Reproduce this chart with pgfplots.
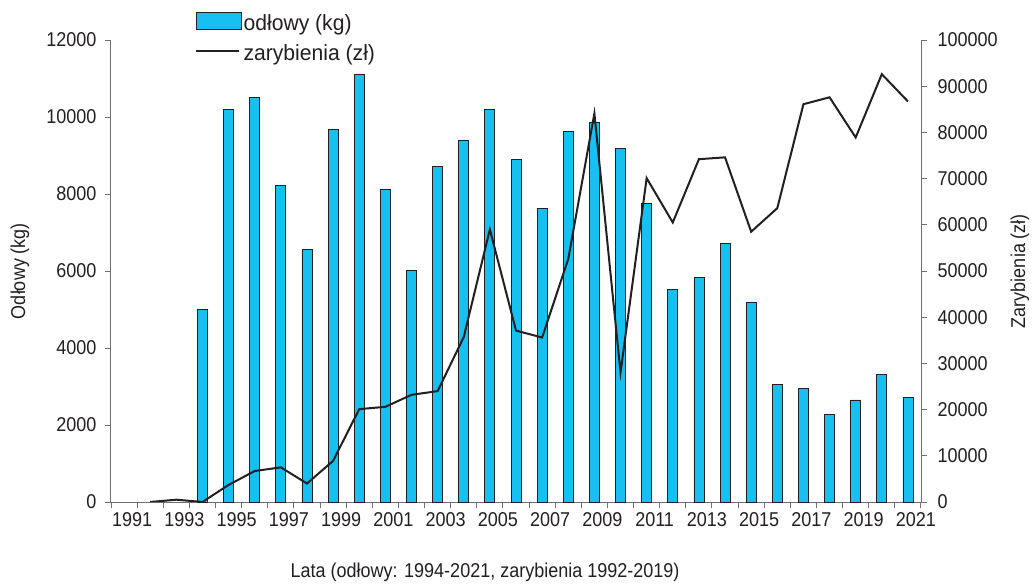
\documentclass[border=0pt]{standalone}
\usepackage{fontspec}
\setmainfont{Liberation Sans}[FakeStretch=0.9]
\newfontfamily\legfont{Liberation Sans}[FakeStretch=0.96]
\usepackage{pgfplots}
\pgfplotsset{compat=1.18}
\definecolor{barcyan}{HTML}{16C1F1}
\definecolor{ink}{HTML}{231F20}
\definecolor{axisgray}{HTML}{6D6E71}

\pgfplotsset{
  chartbase/.style={
    at={(0,0)}, anchor=south west,
    scale only axis, width=810bp, height=462bp,
    xmin=1990.5, xmax=2021.5, ymin=0,
    scaled ticks=false,
    tick align=outside,
    major tick length=6bp,
    tick style={axisgray, line width=0.9bp},
    axis line style={axisgray, line width=1bp},
    tick label style={font=\fontsize{20bp}{24bp}\selectfont, text=ink},
    label style={font=\fontsize{20bp}{24bp}\selectfont, text=ink},
    /pgf/number format/assume math mode=true,
    /pgf/number format/fixed,
    /pgf/number format/precision=0,
    /pgf/number format/1000 sep={},
  },
}

\begin{document}
\begin{tikzpicture}
\useasboundingbox (-111bp,-83bp) rectangle (922bp,502bp);

% odlowy: bars on the left axis
\begin{axis}[
  chartbase,
  ymax=12000,
  axis x line*=bottom, axis y line*=left,
  ytick={0,2000,...,12000},
  yticklabel style={xshift=-5bp},
  xtick={1990.5,1991.5,...,2021.5},
  xticklabels={},
  extra x ticks={1991,1993,...,2021},
  extra x tick labels={1991,1993,1995,1997,1999,2001,2003,2005,2007,2009,2011,2013,2015,2017,2019,2021},
  extra x tick style={grid=none, major tick length=0pt,
    xticklabel style={xshift=8bp, yshift=-7bp}},
  ylabel={Odłowy (kg)},
  ylabel style={at={(axis description cs:-0.1123,0.5)}, anchor=center},
  xlabel={Lata (odłowy: 1994-2021, zarybienia 1992-2019)},
  xlabel style={at={(axis description cs:0.4617,-0.1515)}, anchor=center},
  legend style={at={(axis description cs:0.1037,1.0606)}, anchor=north west,
    draw=none, fill=none, inner sep=0pt, row sep=8bp,
    font=\legfont\fontsize{22bp}{26bp}\selectfont,
    nodes={text=ink, inner sep=2bp}},
  legend cell align=left,
]
\addplot[ybar, bar width=10bp, fill=barcyan, draw=ink, line width=0.8bp,
  legend image code/.code={\draw[fill=barcyan, draw=ink, line width=0.8bp] (0bp,-6bp) rectangle (45bp,11bp);}]
  coordinates {
  (1994,4990) (1995,10200) (1996,10500) (1997,8220) (1998,6550) (1999,9670)
  (2000,11100) (2001,8110) (2002,6010) (2003,8710) (2004,9380) (2005,10200)
  (2006,8890) (2007,7630) (2008,9620) (2009,9860) (2010,9190) (2011,7750)
  (2012,5520) (2013,5830) (2014,6720) (2015,5180) (2016,3060) (2017,2950)
  (2018,2280) (2019,2650) (2020,3310) (2021,2720)
};
\addlegendentry{odłowy (kg)}
\addlegendimage{legend image code/.code={\draw[ink, line width=2bp] (0bp,2.5bp) -- (43bp,2.5bp);}}
\addlegendentry{zarybienia (zł)}
\end{axis}

% zarybienia: line on the right axis
\begin{axis}[
  chartbase,
  ymax=100000,
  axis x line=none, axis y line*=right,
  ytick={0,10000,...,100000},
  yticklabel style={xshift=7bp},
  ylabel={Zarybienia (zł)},
  ylabel style={at={(axis description cs:1.1222,0.5)}, anchor=center},
]
\addplot[ink, line width=2bp, mark=none, line join=miter] coordinates {
  (1992,0) (1993,500) (1994,0) (1995,3700) (1996,6700) (1997,7500)
  (1998,4000) (1999,8900) (2000,20100) (2001,20600) (2002,23200) (2003,24000)
  (2004,35700) (2005,59000) (2006,37100) (2007,35600) (2008,52600) (2009,84100)
  (2010,28000) (2011,70100) (2012,60500) (2013,74200) (2014,74600) (2015,58500)
  (2016,63600) (2017,86100) (2018,87600) (2019,78900) (2020,92600) (2021,86700)
};
\end{axis}
\end{tikzpicture}
\end{document}
